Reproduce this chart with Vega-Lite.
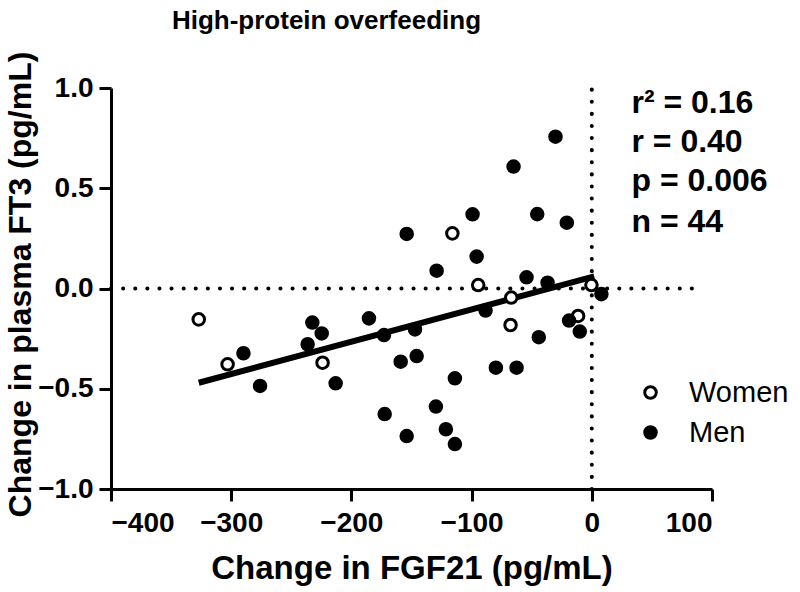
{
  "$schema": "https://vega.github.io/schema/vega-lite/v6.json",
  "autosize": "none",
  "padding": {"left": 111, "top": 88, "right": 88, "bottom": 103},
  "width": 601,
  "height": 401,
  "background": "white",
  "config": {
    "view": {"stroke": null},
    "font": "Liberation Sans, Arial, sans-serif",
    "axis": {
      "grid": false,
      "domainColor": "black",
      "domainWidth": 3,
      "tickColor": "black",
      "tickWidth": 3,
      "tickSize": 12,
      "labelColor": "black",
      "labelFontSize": 28,
      "labelFontWeight": "bold",
      "labelFont": "Liberation Sans, Arial, sans-serif",
      "titleFont": "Liberation Sans, Arial, sans-serif",
      "titleColor": "black",
      "titleFontWeight": "bold"
    }
  },
  "title": {
    "text": "High-protein overfeeding",
    "font": "Liberation Sans, Arial, sans-serif",
    "fontSize": 26,
    "fontWeight": "bold",
    "color": "black",
    "anchor": "middle",
    "frame": "group",
    "dx": -85,
    "dy": 27,
    "baseline": "alphabetic",
    "offset": 23
  },
  "datasets": {
    "points": [
      {"fgf21": -327, "ft3": -0.154, "sex": "Women"},
      {"fgf21": -303, "ft3": -0.378, "sex": "Women"},
      {"fgf21": -224, "ft3": -0.37, "sex": "Women"},
      {"fgf21": -116, "ft3": 0.275, "sex": "Women"},
      {"fgf21": -94.5, "ft3": 0.017, "sex": "Women"},
      {"fgf21": -67, "ft3": -0.045, "sex": "Women"},
      {"fgf21": -67.6, "ft3": -0.182, "sex": "Women"},
      {"fgf21": -11.4, "ft3": -0.137, "sex": "Women"},
      {"fgf21": -0.3, "ft3": 0.017, "sex": "Women"},
      {"fgf21": -30.2, "ft3": 0.757, "sex": "Men"},
      {"fgf21": -65.1, "ft3": 0.608, "sex": "Men"},
      {"fgf21": -99.2, "ft3": 0.37, "sex": "Men"},
      {"fgf21": -45.4, "ft3": 0.371, "sex": "Men"},
      {"fgf21": -20.8, "ft3": 0.328, "sex": "Men"},
      {"fgf21": -154, "ft3": 0.272, "sex": "Men"},
      {"fgf21": -95.8, "ft3": 0.159, "sex": "Men"},
      {"fgf21": -129.1, "ft3": 0.089, "sex": "Men"},
      {"fgf21": -54.3, "ft3": 0.056, "sex": "Men"},
      {"fgf21": -36.8, "ft3": 0.029, "sex": "Men"},
      {"fgf21": 8, "ft3": -0.028, "sex": "Men"},
      {"fgf21": -88.4, "ft3": -0.11, "sex": "Men"},
      {"fgf21": -147.1, "ft3": -0.204, "sex": "Men"},
      {"fgf21": -18.9, "ft3": -0.16, "sex": "Men"},
      {"fgf21": -10, "ft3": -0.215, "sex": "Men"},
      {"fgf21": -44.1, "ft3": -0.243, "sex": "Men"},
      {"fgf21": -159, "ft3": -0.365, "sex": "Men"},
      {"fgf21": -145.7, "ft3": -0.337, "sex": "Men"},
      {"fgf21": -79.8, "ft3": -0.395, "sex": "Men"},
      {"fgf21": -62.6, "ft3": -0.395, "sex": "Men"},
      {"fgf21": -113.9, "ft3": -0.448, "sex": "Men"},
      {"fgf21": -129.7, "ft3": -0.589, "sex": "Men"},
      {"fgf21": -154, "ft3": -0.736, "sex": "Men"},
      {"fgf21": -121.4, "ft3": -0.702, "sex": "Men"},
      {"fgf21": -113.9, "ft3": -0.776, "sex": "Men"},
      {"fgf21": -289.8, "ft3": -0.323, "sex": "Men"},
      {"fgf21": -276, "ft3": -0.486, "sex": "Men"},
      {"fgf21": -232.5, "ft3": -0.17, "sex": "Men"},
      {"fgf21": -224.7, "ft3": -0.224, "sex": "Men"},
      {"fgf21": -236.4, "ft3": -0.278, "sex": "Men"},
      {"fgf21": -213.1, "ft3": -0.473, "sex": "Men"},
      {"fgf21": -185.4, "ft3": -0.149, "sex": "Men"},
      {"fgf21": -172.9, "ft3": -0.232, "sex": "Men"},
      {"fgf21": -172.3, "ft3": -0.626, "sex": "Men"}
    ],
    "fit": [
      {"fgf21": -327, "ft3": -0.47},
      {"fgf21": 2, "ft3": 0.06}
    ],
    "hrule": [{"x1": -400, "x2": 90, "y": 0}],
    "vrule": [{"x": 0, "y1": -1, "y2": 1}],
    "stats": [
      {"label": "r² = 0.16", "fgf21": 33, "ft3": 0.875},
      {"label": "r = 0.40", "fgf21": 33, "ft3": 0.68},
      {"label": "p = 0.006", "fgf21": 33, "ft3": 0.485},
      {"label": "n = 44", "fgf21": 33, "ft3": 0.28}
    ]
  },
  "layer": [
    {
      "data": {"name": "hrule"},
      "mark": {"type": "rule", "color": "black", "strokeWidth": 4, "strokeDash": [0.1, 12], "strokeCap": "round"},
      "encoding": {
        "x": {"field": "x1", "type": "quantitative", "scale": {"domain": [-400, 100], "nice": false, "zero": false},
              "axis": {"values": [-400, -300, -200, -100, 0, 100], "title": "Change in FGF21 (pg/mL)", "labelPadding": 8,
                       "titleFontSize": 33, "titleBaseline": "alphabetic", "titleY": 89}},
        "x2": {"field": "x2"},
        "y": {"field": "y", "type": "quantitative", "scale": {"domain": [-1, 1], "nice": false, "zero": false},
              "axis": {"values": [-1, -0.5, 0, 0.5, 1], "format": ".1f", "title": "Change in plasma FT3 (pg/mL)", "labelPadding": 6,
                       "titleFontSize": 32, "titleAngle": -90, "titleBaseline": "alphabetic", "titleAlign": "center", "titleX": -81, "titleY": 196}}
      }
    },
    {
      "data": {"name": "vrule"},
      "mark": {"type": "rule", "color": "black", "strokeWidth": 4, "strokeDash": [0.1, 12], "strokeCap": "round"},
      "encoding": {
        "x": {"field": "x", "type": "quantitative"},
        "y": {"field": "y1", "type": "quantitative"},
        "y2": {"field": "y2"}
      }
    },
    {
      "data": {"name": "fit"},
      "mark": {"type": "line", "color": "black", "strokeWidth": 6},
      "encoding": {
        "x": {"field": "fgf21", "type": "quantitative"},
        "y": {"field": "ft3", "type": "quantitative"}
      }
    },
    {
      "data": {"name": "points"},
      "mark": {"type": "point", "shape": "circle", "filled": true, "size": 133, "stroke": "black", "strokeWidth": 3, "opacity": 1},
      "encoding": {
        "x": {"field": "fgf21", "type": "quantitative"},
        "y": {"field": "ft3", "type": "quantitative"},
        "fill": {
          "field": "sex", "type": "nominal",
          "scale": {"domain": ["Women", "Men"], "range": ["white", "black"]},
          "legend": {
            "orient": "none", "legendX": 525, "legendY": 290, "title": null, "padding": 0,
            "labelFontSize": 29, "labelFont": "Liberation Sans, Arial, sans-serif", "labelColor": "black",
            "labelOffset": 24, "rowPadding": 10, "symbolSize": 133, "symbolStrokeWidth": 3, "symbolStrokeColor": "black",
            "symbolType": "circle"
          }
        }
      }
    },
    {
      "data": {"name": "stats"},
      "mark": {"type": "text", "align": "left", "baseline": "alphabetic", "fontSize": 32, "fontWeight": "bold", "color": "black",
               "font": "Liberation Sans, Arial, sans-serif"},
      "encoding": {
        "x": {"field": "fgf21", "type": "quantitative"},
        "y": {"field": "ft3", "type": "quantitative"},
        "text": {"field": "label"}
      }
    }
  ]
}
